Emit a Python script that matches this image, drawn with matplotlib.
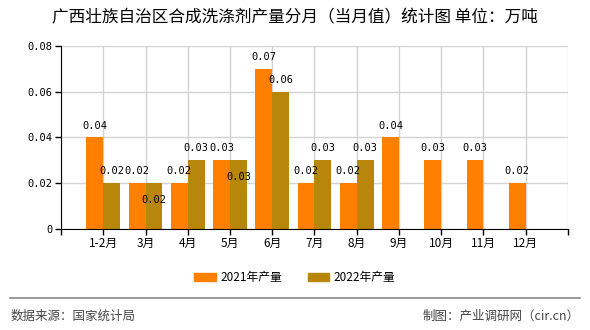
import numpy as np
import matplotlib.pyplot as plt
from matplotlib.lines import Line2D

plt.rcParams['font.family'] = ['Noto Sans CJK SC', 'DejaVu Sans']

# data
months = ['1-2月', '3月', '4月', '5月', '6月', '7月', '8月', '9月', '10月', '11月', '12月']
y2021 = [0.04, 0.02, 0.02, 0.03, 0.07, 0.02, 0.02, 0.04, 0.03, 0.03, 0.02]
y2022 = [0.02, 0.02, 0.03, 0.03, 0.06, 0.03, 0.03, None, None, None, None]

c2021 = '#FF8000'
c2022 = '#B8860B'

fig = plt.figure(figsize=(5.9, 3.3), dpi=100)
ax = fig.add_axes([0.1034, 0.306, 0.8593, 0.555])

x = np.arange(len(months))
w = 0.4

ax.bar(x - w / 2, y2021, width=w, color=c2021, zorder=2)
x22 = [i for i, v in enumerate(y2022) if v is not None]
v22 = [y2022[i] for i in x22]
ax.bar(np.array(x22) + w / 2, v22, width=w, color=c2022, zorder=2)

lab_font = dict(family='DejaVu Sans Mono', fontsize=7.5, ha='center', color='black', zorder=3)
for i, v in enumerate(y2021):
    ax.annotate(f'{v:.2f}', (i - w / 2, v), xytext=(0, 5), textcoords='offset points',
                va='bottom', **lab_font)
for i, v in zip(x22, v22):
    # same value as the 2021 bar next to it -> label goes inside the bar
    if v == y2021[i]:
        ax.annotate(f'{v:.2f}', (i + w / 2, v), xytext=(0, -12), textcoords='offset points',
                    va='center', **lab_font)
    else:
        ax.annotate(f'{v:.2f}', (i + w / 2, v), xytext=(0, 5), textcoords='offset points',
                    va='bottom', **lab_font)

ax.set_xlim(-1, 11)
ax.set_ylim(0, 0.08)
ax.set_xticks(np.arange(-1, 12))
ax.set_xticklabels([''] + months + [''], fontsize=8.5)
ax.set_yticks([0, 0.02, 0.04, 0.06, 0.08])
ax.set_yticklabels(['0', '0.02', '0.04', '0.06', '0.08'], family='DejaVu Sans Mono', fontsize=7.5)
ax.grid(True, color='#d3d3d3', linewidth=1, zorder=0)
ax.set_axisbelow(True)
for s in ['top', 'right']:
    ax.spines[s].set_visible(False)
ax.spines['left'].set_color('black')
ax.spines['bottom'].set_color('black')
ax.tick_params(axis='both', length=4, width=1, color='black', pad=2)

fig.text(0.5, 0.945, '广西壮族自治区合成洗涤剂产量分月（当月值）统计图 单位：万吨',
         ha='center', va='center', fontsize=12)

handles = [plt.Rectangle((0, 0), 1, 1, color=c2021), plt.Rectangle((0, 0), 1, 1, color=c2022)]
fig.legend(handles, ['2021年产量', '2022年产量'], loc='center', bbox_to_anchor=(0.5, 0.158),
           ncol=2, frameon=False, fontsize=8.5, handlelength=1.8, handleheight=0.7,
           columnspacing=2.2, handletextpad=0.4)

fig.add_artist(Line2D([0.017, 0.983], [0.097, 0.097], color='#888888', linewidth=1.2))
fig.text(0.017, 0.042, '数据来源：国家统计局', ha='left', va='center', fontsize=9, color='#444444')
fig.text(0.983, 0.042, '制图：产业调研网（cir.cn）', ha='right', va='center', fontsize=9, color='#444444')

fig.savefig('out.png', dpi=100)
